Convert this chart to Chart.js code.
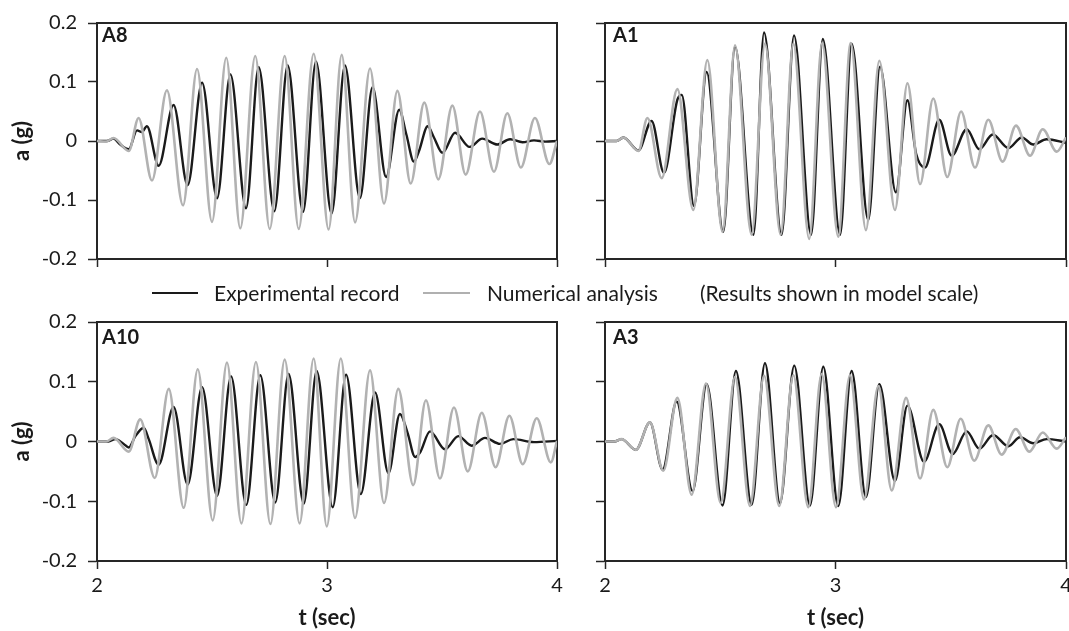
<!DOCTYPE html>
<html><head><meta charset="utf-8">
<script src="https://cdn.jsdelivr.net/npm/chart.js@4.4.1/dist/chart.umd.min.js"></script>
<style>
html,body{margin:0;padding:0;background:#fff;width:1069px;height:631px;overflow:hidden;position:relative;font-family:Lato,sans-serif;color:#1a1a1a;}
canvas{position:absolute;left:0;top:0;}
.lbl{position:absolute;font-weight:bold;font-size:20px;line-height:20px;white-space:nowrap;z-index:5;}
.leg{position:absolute;font-size:21px;line-height:20px;white-space:nowrap;z-index:5;}
.sw{position:absolute;height:2px;z-index:5;}
</style></head><body>
<canvas id="cA8" width="1100" height="631"></canvas>
<canvas id="cA1" width="1100" height="631"></canvas>
<canvas id="cA10" width="1100" height="631"></canvas>
<canvas id="cA3" width="1100" height="631"></canvas>

<div class="lbl" style="left:102px;top:24px;">A8</div>
<div class="lbl" style="left:613px;top:24px;">A1</div>
<div class="lbl" style="left:102px;top:326px;">A10</div>
<div class="lbl" style="left:613px;top:326px;">A3</div>

<div class="sw" style="left:152px;top:292px;width:46px;background:#1a1a1a;"></div>
<div class="leg" style="left:214px;top:283px;">Experimental record</div>
<div class="sw" style="left:423px;top:292px;width:47px;background:#b0b0b0;"></div>
<div class="leg" style="left:487px;top:283px;">Numerical analysis</div>
<div class="leg" style="left:700px;top:283px;">(Results shown in model scale)</div>

<script>
// ---------- data (t in sec, a in g) ----------
const xTickLabels = ['2', '3', '4'];
const yTickLabels = ['-0.2', '-0.1', '0', '0.1', '0.2'];
const seriesNames = ['Experimental record', 'Numerical analysis'];

// A8
const a8ExpT = [2.000,2.043,2.072,2.101,2.138,2.174,2.195,2.217,2.268,2.333,2.394,2.457,2.522,2.580,2.648,2.703,2.771,2.829,2.896,2.952,3.020,3.078,3.143,3.198,3.257,3.314,3.345,3.378,3.400,3.438,3.465,3.502,3.557,3.620,3.675,3.741,3.796,3.850,3.900,3.950,4.000];
const a8ExpA = [0,0,0.004,-0.006,-0.014,0.018,0.015,0.025,-0.042,0.061,-0.075,0.099,-0.097,0.113,-0.114,0.125,-0.119,0.128,-0.120,0.135,-0.123,0.128,-0.097,0.091,-0.061,0.053,0.011,-0.035,-0.017,0.025,0.006,-0.020,0.014,-0.010,0.004,-0.006,0.003,-0.002,0.001,-0.001,0];
const a8NumT = [2.000,2.040,2.072,2.138,2.181,2.239,2.304,2.374,2.435,2.500,2.562,2.623,2.688,2.751,2.816,2.877,2.942,3.007,3.064,3.122,3.187,3.248,3.306,3.364,3.423,3.484,3.545,3.603,3.665,3.726,3.784,3.843,3.904,3.967,4.000];
const a8NumA = [0,-0.001,0.005,-0.017,0.039,-0.067,0.086,-0.109,0.122,-0.137,0.141,-0.148,0.144,-0.149,0.144,-0.149,0.148,-0.150,0.146,-0.138,0.123,-0.106,0.085,-0.072,0.065,-0.065,0.060,-0.057,0.050,-0.052,0.047,-0.045,0.039,-0.039,0];

// A1
const a1ExpT = [2.000,2.050,2.080,2.145,2.202,2.256,2.314,2.333,2.386,2.441,2.513,2.564,2.644,2.690,2.766,2.820,2.894,2.945,3.020,3.070,3.142,3.193,3.262,3.312,3.350,3.388,3.450,3.504,3.569,3.624,3.682,3.750,3.808,3.858,3.916,4.000];
const a1ExpA = [0,0,0.006,-0.016,0.034,-0.054,0.070,0.078,-0.110,0.117,-0.154,0.160,-0.159,0.184,-0.159,0.179,-0.159,0.173,-0.159,0.165,-0.134,0.126,-0.087,0.069,-0.022,-0.045,0.036,-0.025,0.020,-0.014,0.011,-0.012,0.006,-0.006,0.003,-0.003];
const a1NumT = [2.000,2.050,2.080,2.145,2.184,2.246,2.314,2.383,2.444,2.510,2.564,2.636,2.694,2.762,2.817,2.886,2.942,3.012,3.066,3.132,3.190,3.258,3.312,3.367,3.424,3.485,3.545,3.605,3.663,3.725,3.783,3.844,3.899,3.960,4.000];
const a1NumA = [0,0,0.006,-0.017,0.039,-0.063,0.088,-0.117,0.137,-0.154,0.162,-0.159,0.165,-0.159,0.165,-0.166,0.166,-0.162,0.166,-0.151,0.136,-0.117,0.098,-0.073,0.072,-0.061,0.050,-0.045,0.036,-0.035,0.026,-0.025,0.020,-0.018,0.006];

// A10
const a10ExpT = [2.000,2.050,2.080,2.116,2.138,2.167,2.203,2.225,2.268,2.333,2.394,2.457,2.522,2.583,2.649,2.710,2.775,2.833,2.899,2.955,3.025,3.083,3.147,3.209,3.267,3.317,3.350,3.383,3.405,3.448,3.513,3.571,3.629,3.687,3.752,3.810,3.900,4.000];
const a10ExpA = [0,0,0.004,-0.004,-0.010,0.009,0.023,0.004,-0.039,0.058,-0.072,0.091,-0.091,0.109,-0.106,0.111,-0.102,0.113,-0.104,0.118,-0.110,0.112,-0.088,0.082,-0.053,0.046,0.015,-0.026,-0.018,0.017,-0.013,0.009,-0.007,0.006,-0.004,0.004,-0.001,0.001];
const a10NumT = [2.000,2.040,2.072,2.138,2.188,2.251,2.312,2.377,2.438,2.503,2.565,2.628,2.691,2.754,2.816,2.881,2.942,2.999,3.060,3.122,3.187,3.248,3.310,3.375,3.430,3.491,3.552,3.612,3.673,3.733,3.793,3.851,3.912,3.973,4.000];
const a10NumA = [0,0,0.006,-0.017,0.037,-0.061,0.088,-0.111,0.121,-0.132,0.132,-0.137,0.133,-0.138,0.137,-0.137,0.139,-0.142,0.139,-0.128,0.119,-0.103,0.088,-0.073,0.069,-0.062,0.057,-0.050,0.048,-0.043,0.043,-0.038,0.039,-0.035,0.001];

// A3
const a3ExpT = [2.000,2.040,2.072,2.134,2.195,2.250,2.311,2.380,2.441,2.510,2.568,2.636,2.694,2.759,2.821,2.889,2.947,3.012,3.070,3.132,3.190,3.258,3.312,3.384,3.450,3.508,3.569,3.624,3.684,3.750,3.800,3.858,3.916,4.000];
const a3ExpA = [0,0,0.004,-0.014,0.032,-0.047,0.067,-0.083,0.096,-0.107,0.118,-0.106,0.131,-0.103,0.127,-0.107,0.125,-0.108,0.118,-0.093,0.096,-0.066,0.060,-0.034,0.029,-0.021,0.017,-0.012,0.011,-0.008,0.007,-0.003,0.004,0];
const a3NumT = [2.000,2.040,2.072,2.134,2.195,2.253,2.314,2.376,2.438,2.502,2.564,2.629,2.690,2.756,2.817,2.882,2.940,3.002,3.063,3.124,3.186,3.244,3.306,3.367,3.424,3.485,3.543,3.602,3.663,3.721,3.782,3.841,3.899,3.960,4.000];
const a3NumA = [0,0,0.004,-0.014,0.032,-0.049,0.073,-0.089,0.097,-0.103,0.108,-0.108,0.110,-0.108,0.111,-0.110,0.113,-0.110,0.111,-0.097,0.093,-0.082,0.073,-0.062,0.053,-0.043,0.038,-0.032,0.027,-0.022,0.021,-0.017,0.015,-0.012,0.007];

// ---------- rendering ----------
Chart.defaults.font.family = 'Lato, sans-serif';
Chart.defaults.color = '#1a1a1a';
const W = 1100, H = 631;
const AX = '#262626';
const TEXT = '#1a1a1a';

const framePlugin = {
  id: 'frame',
  beforeDatasetsDraw(chart) {
    const {ctx, chartArea: a} = chart;
    ctx.save();
    ctx.strokeStyle = AX; ctx.lineWidth = 2;
    ctx.beginPath();
    ctx.moveTo(a.left, a.top); ctx.lineTo(a.right, a.top); ctx.lineTo(a.right, a.bottom);
    ctx.stroke();
    ctx.restore();
  }
};

function pts(ts, as) { return ts.map((t, i) => ({x: t, y: as[i]})); }

function panel(id, expT, expA, numT, numA, box, leftLabels, bottomLabels) {
  const yW = leftLabels ? box.left : 20;
  const xH = bottomLabels ? 70 : 20;
  new Chart(document.getElementById(id), {
    type: 'line',
    data: {
      datasets: [
        {label: seriesNames[0], data: pts(expT, expA), borderColor: '#1a1a1a', borderWidth: 2.4, order: 1},
        {label: seriesNames[1], data: pts(numT, numA), borderColor: '#b2b2b2', borderWidth: 2.6, order: 0}
      ]
    },
    options: {
      responsive: false, animation: false, devicePixelRatio: 1,
      layout: {padding: {left: box.left - yW, right: W - box.right, top: box.top, bottom: H - box.bottom - xH}},
      elements: {point: {radius: 0}, line: {tension: 0.4, cubicInterpolationMode: 'monotone', fill: false}},
      plugins: {legend: {display: false}, tooltip: {enabled: false}},
      scales: {
        x: {
          type: 'linear', min: 2, max: 4,
          afterFit(s) { s.height = xH; },
          ticks: {stepSize: 1, autoSkip: false, maxRotation: 0, padding: 5, color: TEXT, font: {size: 20},
                  callback: (v, i) => bottomLabels ? xTickLabels[i] : ''},
          grid: {drawOnChartArea: false, drawTicks: true, tickLength: 8, tickColor: AX, tickWidth: 1.5},
          border: {display: true, color: AX, width: 2},
          title: {display: bottomLabels, text: 't (sec)', color: TEXT, font: {size: 22, weight: 'bold'}, padding: {top: 0, bottom: 0}}
        },
        y: {
          type: 'linear', min: -0.2, max: 0.2,
          afterFit(s) { s.width = yW; },
          ticks: {stepSize: 0.1, padding: 11, color: TEXT, font: {size: 20},
                  callback: (v, i) => leftLabels ? yTickLabels[i] : ''},
          grid: {drawOnChartArea: false, drawTicks: true, tickLength: 9, tickColor: AX, tickWidth: 1.5},
          border: {display: true, color: AX, width: 2},
          title: {display: leftLabels, text: 'a (g)', color: TEXT, font: {size: 22, weight: 'bold'}, padding: {top: 9, bottom: 0}}
        }
      }
    },
    plugins: [framePlugin]
  });
}

panel('cA8',  a8ExpT,  a8ExpA,  a8NumT,  a8NumA,  {left: 97,  right: 557,  top: 19,  bottom: 259}, true,  false);
panel('cA1',  a1ExpT,  a1ExpA,  a1NumT,  a1NumA,  {left: 605, right: 1066, top: 19,  bottom: 259}, false, false);
panel('cA10', a10ExpT, a10ExpA, a10NumT, a10NumA, {left: 97,  right: 557,  top: 322, bottom: 561}, true,  true);
panel('cA3',  a3ExpT,  a3ExpA,  a3NumT,  a3NumA,  {left: 605, right: 1066, top: 322, bottom: 561}, false, true);
</script>
</body></html>
